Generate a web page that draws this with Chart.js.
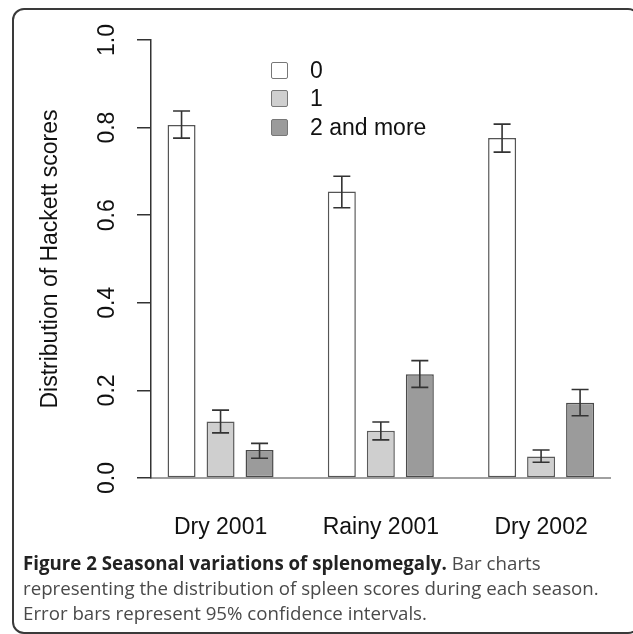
<!DOCTYPE html>
<html>
<head>
<meta charset="utf-8">
<script src="https://cdn.jsdelivr.net/npm/chart.js@4.4.1/dist/chart.umd.min.js"></script>
<style>
  html, body { margin: 0; padding: 0; background: #fff; overflow: hidden; }
  #wrap { position: relative; width: 633px; height: 634px; }
  #frame { position: absolute; left: 12px; top: 8px; width: 624px; height: 622px;
           border: 2px solid #3a3a3a; border-radius: 12px; }
  #c { position: absolute; left: 0; top: 0; }
  #legend { position: absolute; left: 271px; top: 56px; font-family: "Liberation Sans", Arial, sans-serif;
            font-size: 23px; color: #111; }
  #legend div { height: 28.3px; line-height: 28.3px; white-space: nowrap; }
  #legend span.box { display: inline-block; width: 15px; height: 15px; border: 1px solid #777;
                     border-radius: 2px; vertical-align: -1px; margin-right: 22px; }
  #caption { position: absolute; left: 23px; top: 550px; font-family: "Open Sans", sans-serif;
             font-size: 18.7px; line-height: 25px; color: #4a4a4a; white-space: nowrap; }
  #caption b { color: #222; font-weight: 700; }
</style>
</head>
<body>
<div id="wrap">
  <div id="frame"></div>
  <canvas id="c" width="633" height="634"></canvas>
  <div id="legend"></div>
  <div id="caption"><b>Figure 2 Seasonal variations of splenomegaly.</b> Bar charts<br>representing the distribution of spleen scores during each season.<br>Error bars represent 95% confidence intervals.</div>
</div>
<script>
const seasons = ["Dry 2001", "Rainy 2001", "Dry 2002"];
const scoreNames = ["0", "1", "2 and more"];

// proportions per season, with 95% CI bounds
const score0 = [0.806, 0.654, 0.776];
const low0 = [0.776, 0.617, 0.744];
const high0 = [0.838, 0.689, 0.808];

const score1 = [0.129, 0.108, 0.049];
const low1 = [0.103, 0.087, 0.036];
const high1 = [0.155, 0.128, 0.064];

const score2 = [0.064, 0.237, 0.172];
const low2 = [0.045, 0.207, 0.142];
const high2 = [0.079, 0.268, 0.202];

const yTicks = [0, 0.2, 0.4, 0.6, 0.8, 1.0];

const fills = ["#ffffff", "#cfcfcf", "#9b9b9b"];
const edges = ["#555555", "#5a5a5a", "#4a4a4a"];
const lows = [low0, low1, low2];
const highs = [high0, high1, high2];

function toPoints(arr) {
    return arr.map((v, i) => ({ x: i, y: v }));
}

const errorBars = {
    id: 'errorBars',
    afterDatasetsDraw(chart) {
        const ctx = chart.ctx;
        const yScale = chart.scales.y;
        ctx.save();
        ctx.strokeStyle = '#333';
        ctx.lineWidth = 1.6;
        chart.data.datasets.forEach((ds, d) => {
            const meta = chart.getDatasetMeta(d);
            meta.data.forEach((bar, i) => {
                const x = bar.x;
                const yl = yScale.getPixelForValue(lows[d][i]);
                const yh = yScale.getPixelForValue(highs[d][i]);
                ctx.beginPath();
                ctx.moveTo(x, yl); ctx.lineTo(x, yh);
                ctx.moveTo(x - 8.5, yl); ctx.lineTo(x + 8.5, yl);
                ctx.moveTo(x - 8.5, yh); ctx.lineTo(x + 8.5, yh);
                ctx.stroke();
            });
        });
        ctx.restore();
    }
};

const chart = new Chart('c', {
    type: 'bar',
    data: {
        datasets: [score0, score1, score2].map((s, d) => ({
            label: scoreNames[d],
            data: toPoints(s),
            backgroundColor: fills[d],
            borderColor: edges[d],
            borderWidth: 1.5,
            borderSkipped: false,
            categoryPercentage: 0.73,
            barPercentage: 0.718
        }))
    },
    options: {
        responsive: false,
        animation: false,
        devicePixelRatio: 1,
        layout: { padding: { left: 20, top: 40, right: 23, bottom: 76 } },
        plugins: {
            legend: { display: false },
            tooltip: { enabled: false }
        },
        scales: {
            x: {
                type: 'linear',
                offset: false,
                min: -0.434,
                max: 2.43,
                afterFit: (scale) => { scale.height = 80; },
                grid: { display: false },
                border: { color: '#a0a0a0', width: 2 },
                ticks: {
                    stepSize: 1,
                    includeBounds: false,
                    maxRotation: 0,
                    padding: 28,
                    color: '#111',
                    font: { family: 'Liberation Sans', size: 23 },
                    callback: (v) => seasons[v]
                }
            },
            y: {
                min: 0,
                max: 1,
                afterFit: (scale) => { scale.width = 131; },
                afterBuildTicks: (scale) => { scale.ticks = yTicks.map(v => ({ value: v })); },
                grid: { drawOnChartArea: false, tickLength: 14, color: '#333', lineWidth: 1.5 },
                border: { color: '#333', width: 1.5 },
                title: {
                    display: true,
                    text: 'Distribution of Hackett scores',
                    color: '#111',
                    font: { family: 'Liberation Sans', size: 23 },
                    padding: { top: 17, bottom: 0 }
                },
                ticks: {
                    minRotation: 90,
                    maxRotation: 90,
                    crossAlign: 'center',
                    padding: 13,
                    color: '#111',
                    font: { family: 'Liberation Sans', size: 23 },
                    callback: (v) => v.toFixed(1)
                }
            }
        }
    },
    plugins: [errorBars]
});

// html legend from the dataset list
const legendEl = document.getElementById('legend');
chart.data.datasets.forEach((ds) => {
    const row = document.createElement('div');
    const box = document.createElement('span');
    box.className = 'box';
    box.style.background = ds.backgroundColor;
    row.appendChild(box);
    row.appendChild(document.createTextNode(ds.label));
    legendEl.appendChild(row);
});
</script>
</body>
</html>
